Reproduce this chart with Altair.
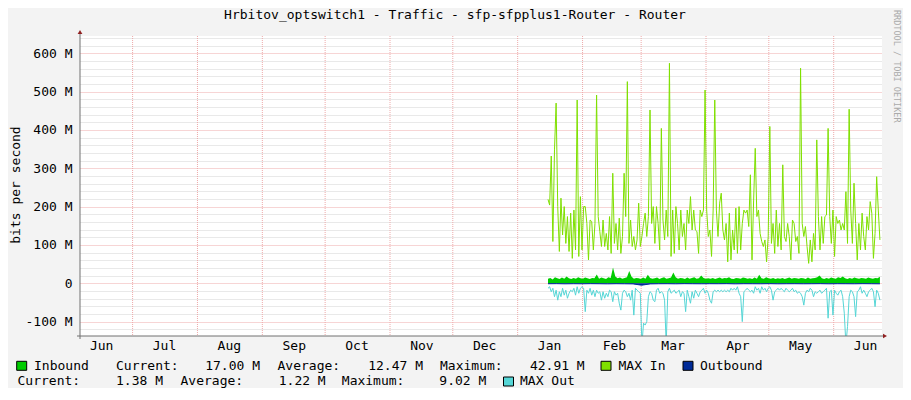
import altair as alt
import pandas as pd
from datetime import datetime, timezone

MONO = "DejaVu Sans Mono"

TITLE = "Hrbitov_optswitch1 - Traffic - sfp-sfpplus1-Router - Router"
Y_TITLE = "bits per second"
WATERMARK = "RRDTOOL / TOBI OETIKER"

# x range and month positions
X_START = "2022-06-05T21:00"
X_END = "2023-06-24T02:00"
MONTH_LABEL_DATES = ["2022-06-16", "2022-07-16", "2022-08-16", "2022-09-16", "2022-10-16",
                     "2022-11-16", "2022-12-16", "2023-01-16", "2023-02-16", "2023-03-16",
                     "2023-04-16", "2023-05-16", "2023-06-16"]
MONTH_STARTS = ["2022-07-01", "2022-08-01", "2022-09-01", "2022-10-01", "2022-11-01",
                "2022-12-01", "2023-01-01", "2023-02-01", "2023-03-01", "2023-04-01",
                "2023-05-01", "2023-06-01"]
SERIES_START = "2023-01-15T12:00"
SERIES_END = "2023-06-23T02:00"

Y_MIN, Y_MAX = -137.5, 645.0
Y_GRID = list(range(-120, 641, 20))

# values in M (bits per second)
max_in = [219, 204, 332, 109, 348, 470, 200, 83, 222, 126, 200, 104, 174, 83, 183, 65, 191, 87,
          478, 70, 226, 87, 200, 200, 156, 61, 165, 161, 87, 156, 491, 174, 135, 96, 165, 96,
          130, 87, 174, 78, 287, 104, 156, 87, 170, 78, 122, 287, 174, 526, 104, 165, 96, 122,
          87, 113, 209, 96, 122, 156, 183, 122, 174, 452, 156, 200, 104, 200, 156, 87, 404, 165,
          113, 191, 122, 574, 70, 191, 78, 200, 156, 87, 191, 122, 156, 87, 191, 156, 226, 139,
          191, 139, 135, 78, 191, 174, 191, 504, 191, 122, 139, 70, 191, 478, 191, 122, 209, 235,
          139, 113,
          156, 56, 183, 61, 139, 87, 196, 78, 200, 87, 156, 191, 183, 191, 148, 283, 61, 217,
          352, 174, 191, 130, 109, 96, 113, 56, 122, 409, 104, 156, 78, 191, 96, 156, 87, 309,
          122, 109, 156, 122, 61, 165, 156, 109, 122, 78, 561, 156, 122, 148, 96, 52, 113, 56,
          130, 87, 374, 174, 87, 174, 104, 174, 178, 404, 174, 104, 191, 70, 174, 156, 165, 139,
          156, 139, 239, 104, 454, 191, 104, 261, 156, 61, 156, 87, 183, 122, 87, 174, 139, 213,
          183, 65, 130, 278, 191, 113]

inbound = [12, 14, 10, 16, 13, 11, 15, 12, 18, 13,
           11, 14, 12, 16, 13, 12, 15, 13, 11, 14,
           13, 23, 12, 15, 13, 11, 16, 14, 41, 18,
           13, 15, 12, 14, 16, 32, 17, 12, 14, 13,
           11, 15, 12, 22, 14, 12, 13, 15, 11, 14,
           16, 12, 13, 15, 28, 16, 12, 14, 13, 11,
           15, 12, 14, 16, 12, 13, 20, 14, 12, 13,
           12, 14, 11, 13, 15, 12, 14, 13, 16, 12,
           11, 14, 13, 12, 15, 14, 12, 13, 11, 15,
           12, 22, 13, 12, 16, 13, 12, 14, 11, 13,
           12, 14, 11, 13, 15, 12, 14, 13, 12, 14,
           13, 11, 15, 12, 13, 14, 16, 20, 13, 11,
           14, 12, 15, 13, 12, 16, 14, 18, 13, 11,
           14, 12, 15, 13, 12, 14, 13, 12, 15, 13,
           12, 14, 13, 17]

outbound = [-1.2, -1.0, -1.4, -1.1, -1.3, -1.0, -1.2, -1.5, -1.1, -1.3, -1.6, -5.0, -1.6, -1.2,
            -1.1, -1.4, -1.0, -1.2, -1.3, -1.1, -1.2, -1.0, -1.5, -1.1, -1.2, -1.3, -1.0, -1.4,
            -1.2, -1.1, -1.3, -1.2, -1.0, -1.4, -1.1, -1.2, -1.3, -1.0, -1.2, -1.4]

max_out = [-13, -9, -22, -13, -35, -18, -44, -22, -35, -13, -31, -18, -39, -26, -18, -22, -13, -31,
           -9, -26, -13, -9, -13, -74, -18, -26, -13, -31, -18, -35, -18, -26, -22, -44, -22, -39,
           -26, -35, -18, -22, -48, -22, -31, -26, -52, -70, -26, -18, -22, -35, -26, -44, -18, -83,
           -13, -18, -22, -26, -160, -104, -109, -100, -35, -22, -26, -44, -48, -18, -13, -26, -22,
           -26, -44, -160, -22, -13, -26, -22, -18, -26, -22, -18, -35, -22, -26, -74, -18, -35,
           -52, -22, -39, -18, -26, -35, -22, -18, -13, -26, -18, -26, -44, -52, -22, -18, -22, -18,
           -22, -18, -22, -18, -22, -18, -22, -13, -18, -13, -18, -9, -26, -35, -100, -22, -18, -13,
           -18, -22, -18, -26, -9, -18, -13, -26, -9, -18, -13, -22, -13, -9, -18, -44, -22, -18,
           -13, -18, -13, -18, -22, -13, -18, -22, -18, -13, -22, -18, -26, -22, -26, -35, -57, -26,
           -18, -22, -13, -18, -35, -22, -26, -22, -18, -26, -22, -18, -13, -91, -22, -18, -83, -18,
           -26, -31, -22, -18, -35, -78, -160, -113, -35, -18, -22, -35, -87, -22, -18, -9, -26, -18,
           -26, -35, -22, -18, -13, -22, -61, -18, -26, -44]

LEGEND_ROW1 = ["Inbound", "Current:", "17.00 M", "Average:", "12.47 M", "Maximum:", "42.91 M",
               "MAX In", "Outbound"]
LEGEND_ROW2 = ["Current:", "1.38 M", "Average:", "1.22 M", "Maximum:", "9.02 M", "MAX Out"]

C_IN = "#00CC00"
C_MAXIN = "#7FE000"
C_OUT = "#002A97"
C_MAXOUT = "#55D6D6"
C_MGRID = "#eeaaaa"
C_GRID = "#d2d2d2"


def ms(s):
    return int(datetime.fromisoformat(s).replace(tzinfo=timezone.utc).timestamp() * 1000)


def series_times(n):
    a, b = ms(SERIES_START), ms(SERIES_END)
    return [a + (b - a) * i / (n - 1) for i in range(n)]


def frame(vals):
    return pd.DataFrame({"t": series_times(len(vals)), "v": vals})


xscale = alt.Scale(type="utc", domain=[ms(X_START), ms(X_END)])
yscale = alt.Scale(domain=[Y_MIN, Y_MAX], nice=False, zero=False)

xaxis = alt.Axis(values=[ms(d) for d in MONTH_LABEL_DATES],
                 labelExpr="utcFormat(datum.value, '%b')",
                 ticks=False, tickSize=0, grid=False, domain=False,
                 labelFont=MONO, labelFontSize=13, labelColor="#000000",
                 labelPadding=3, labelOverlap=False, labelFlush=False, labelBound=False,
                 title=None)
yaxis = alt.Axis(values=Y_GRID,
                 labelExpr="datum.value % 100 === 0 ? (datum.value === 0 ? '0' : datum.value + ' M') : ''",
                 ticks=False, tickSize=0, domain=False, grid=True,
                 gridColor={"condition": {"test": "datum.value % 100 === 0", "value": C_MGRID},
                            "value": C_GRID},
                 gridDash=[1, 1], gridWidth=1,
                 labelFont=MONO, labelFontSize=13, labelColor="#000000",
                 labelPadding=8, labelOverlap=False, title=None)

X = alt.X("t:T", scale=xscale, axis=xaxis)
Y = alt.Y("v:Q", scale=yscale, axis=yaxis)

one = pd.DataFrame({"k": [0]})

layers = []

# vertical month gridlines
month_df = pd.DataFrame({"t": [ms(d) for d in MONTH_STARTS]})
layers.append(alt.Chart(month_df).mark_rule(color=C_MGRID, strokeDash=[1, 1], strokeWidth=1)
              .encode(x=X))

layers.append(alt.Chart(frame(inbound)).mark_area(color=C_IN, opacity=1).encode(x=X, y=Y))
layers.append(alt.Chart(frame(outbound)).mark_area(color=C_OUT, opacity=1,
                                                   line={"color": C_OUT, "strokeWidth": 1})
              .encode(x=X, y=Y))
layers.append(alt.Chart(frame(max_in)).mark_line(color=C_MAXIN, strokeWidth=1, clip=True)
              .encode(x=X, y=Y))
layers.append(alt.Chart(frame(max_out)).mark_line(color=C_MAXOUT, strokeWidth=1, clip=True)
              .encode(x=X, y=Y))


def rule(x1, x2, y1, y2, color, w=1):
    return alt.Chart(one).mark_rule(color=color, strokeWidth=w).encode(
        x=alt.value(x1), x2=alt.value(x2), y=alt.value(y1), y2=alt.value(y2))


def txt(s, x, y, align="left", size=13, color="#000000", angle=0, baseline="alphabetic"):
    return alt.Chart(one).mark_text(text=s, align=align, baseline=baseline, font=MONO,
                                    fontSize=size, color=color, angle=angle).encode(
        x=alt.value(x), y=alt.value(y))


def sq(x, y, color):
    return alt.Chart(one).mark_rect(fill=color, stroke="#000000", strokeWidth=1).encode(
        x=alt.value(x), x2=alt.value(x + 10), y=alt.value(y), y2=alt.value(y + 9))


# axis lines and arrows
layers.append(rule(-3, 804, 300, 300, "#707070"))
layers.append(rule(0, 0, 303, -4, "#707070"))
layers.append(alt.Chart(one).mark_point(shape="triangle-up", filled=True, color="#902020",
                                        size=22, opacity=1)
              .encode(x=alt.value(0), y=alt.value(-4)))
layers.append(alt.Chart(one).mark_point(shape="triangle-right", filled=True, color="#902020",
                                        size=22, opacity=1)
              .encode(x=alt.value(805), y=alt.value(300)))

# title, y title, watermark
layers.append(txt(TITLE, 375, -17.5, align="center"))
layers.append(txt(Y_TITLE, -64.5, 149, align="center", angle=270, baseline="middle"))
layers.append(txt(WATERMARK, 817, -26, align="left", size=8.5, color="#aaaaaa",
                  angle=90, baseline="middle"))

# legend row 1
r1 = 334.3
s1 = 325.3
layers.append(sq(-63.3, s1, C_IN))
layers.append(txt(LEGEND_ROW1[0], -46, r1))
layers.append(txt(LEGEND_ROW1[1], 36, r1))
layers.append(txt(LEGEND_ROW1[2], 180, r1, align="right"))
layers.append(txt(LEGEND_ROW1[3], 197.5, r1))
layers.append(txt(LEGEND_ROW1[4], 343, r1, align="right"))
layers.append(txt(LEGEND_ROW1[5], 360, r1))
layers.append(txt(LEGEND_ROW1[6], 504.7, r1, align="right"))
layers.append(sq(521, s1, C_MAXIN))
layers.append(txt(LEGEND_ROW1[7], 538.5, r1))
layers.append(sq(603, s1, C_OUT))
layers.append(txt(LEGEND_ROW1[8], 620, r1))

# legend row 2
r2 = 349.3
layers.append(txt(LEGEND_ROW2[0], -62.5, r2))
layers.append(txt(LEGEND_ROW2[1], 83, r2, align="right"))
layers.append(txt(LEGEND_ROW2[2], 100.5, r2))
layers.append(txt(LEGEND_ROW2[3], 245.7, r2, align="right"))
layers.append(txt(LEGEND_ROW2[4], 261.8, r2))
layers.append(txt(LEGEND_ROW2[5], 406.3, r2, align="right"))
layers.append(sq(423.5, 341, C_MAXOUT))
layers.append(txt(LEGEND_ROW2[6], 440, r2))

chart = alt.layer(*layers).properties(
    width=802, height=300,
    padding={"left": 72, "top": 28, "right": 21, "bottom": 52},
    autosize=alt.AutoSizeParams(type="none"),
    background="#f3f3f3",
).configure_view(fill="white", stroke=None)

chart.save("out.html", embed_options={"renderer": "svg", "actions": False})
